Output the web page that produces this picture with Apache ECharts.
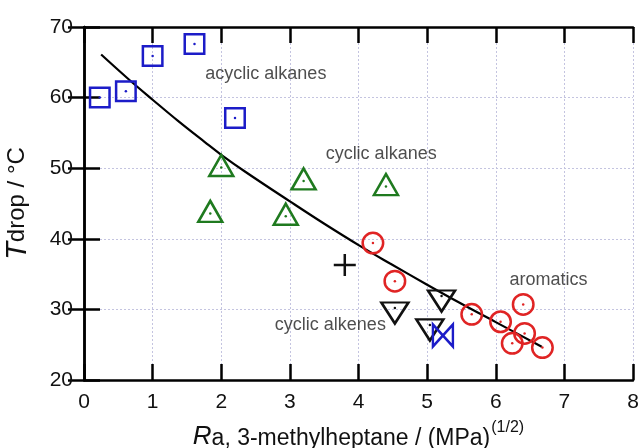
<!DOCTYPE html>
<html>
<head>
<meta charset="utf-8">
<script src="https://cdn.jsdelivr.net/npm/echarts@6/dist/echarts.min.js"></script>
<style>
html,body{margin:0;padding:0;background:#fff;}
#chart{width:641px;height:448px;}
</style>
</head>
<body>
<div id="chart"></div>
<script>
// acyclic alkanes (squares)
var acyclic = [[0.23,60.0],[0.61,60.9],[1.0,65.9],[1.61,67.6],[2.20,57.1]];
// cyclic alkanes (triangles)
var cyclicAlkanes = [[2.0,50.1],[3.2,48.2],[4.40,47.4],[1.84,43.6],[2.94,43.2]];
// aromatics (circles)
var aromatics = [[4.21,39.4],[4.53,34.0],[5.65,29.3],[6.07,28.25],[6.40,30.7],[6.42,26.6],[6.24,25.2],[6.68,24.6]];
// cyclic alkenes (down triangles)
var cyclicAlkenes = [[4.53,30.2],[5.21,31.9],[5.04,27.8]];
var plusPt = [[3.80,36.3]];
var bowtiePt = [[5.23,26.3]];
// fit curve
var fitX = [0.25,0.65,1.0,1.37,1.76,2.0,2.35,3.0,3.49,4.02,4.46,5.0,5.5,6.0,6.67];
var fitY = [66.1,62.6,59.7,56.7,53.7,51.9,49.5,45.3,42.2,39.0,36.5,33.5,30.8,28.2,24.7];
var labels = [
  [2.65,63.3,'acyclic alkanes'],
  [4.33,52.0,'cyclic alkanes'],
  [6.77,34.2,'aromatics'],
  [3.59,27.8,'cyclic alkenes']
];

var blue='#1c1cc8', green='#1f7a1f', red='#e02424', black='#111';
var FONT='Liberation Sans, Arial, sans-serif';

function hollow(name,data,symbol,size,color,extra){
  var s = {
    name:name, type:'scatter', data:data, symbol:symbol, symbolSize:size,
    itemStyle:{color:'rgba(0,0,0,0)',borderColor:color,borderWidth:2.5,opacity:1},
    emphasis:{disabled:true}, z:3
  };
  for(var k in extra){ s[k]=extra[k]; }
  return s;
}
function dots(data,color){
  return {type:'scatter',data:data,symbol:'circle',symbolSize:2.5,
    itemStyle:{color:color,opacity:1},emphasis:{disabled:true},z:4};
}

var fitData = fitX.map(function(x,i){ return [x,fitY[i]]; });

var axisLineS = {show:true,lineStyle:{color:'#000',width:2.5}};
var tickS = {show:true,inside:true,length:16,lineStyle:{color:'#000',width:2.5}};
var gridS = {show:true,lineStyle:{color:'#c4c4e0',type:[2,2],width:1}};

var option = {
  animation:false,
  backgroundColor:'#fff',
  grid:{left:84,top:27,right:8,bottom:68,containLabel:false,outerBoundsMode:'none'},
  xAxis:[{
    type:'value',min:0,max:8,interval:1,position:'bottom',
    axisLine:axisLineS,axisTick:tickS,splitLine:gridS,
    axisLabel:{color:'#111',fontSize:21,fontFamily:FONT,margin:12},
    name:'{i|R}{s|a, 3-methylheptane / (MPa)}{sup|(1/2)}',
    nameLocation:'middle',nameGap:40,
    nameTextStyle:{
      color:'#111',fontFamily:FONT,
      rich:{
        i:{fontSize:26,fontStyle:'italic',fontFamily:FONT,color:'#111',verticalAlign:'bottom',lineHeight:30},
        s:{fontSize:23,fontFamily:FONT,color:'#111',verticalAlign:'bottom',lineHeight:30},
        sup:{fontSize:16,fontFamily:FONT,color:'#111',verticalAlign:'top',lineHeight:30,padding:[0,0,0,1]}
      }
    }
  },{
    type:'value',min:0,max:8,interval:1,position:'top',
    axisLine:axisLineS,axisTick:tickS,splitLine:{show:false},axisLabel:{show:false}
  }],
  yAxis:[{
    type:'value',min:20,max:70,interval:10,position:'left',
    axisLine:axisLineS,axisTick:tickS,splitLine:gridS,
    axisLabel:{color:'#111',fontSize:21,fontFamily:FONT,margin:11},
    name:'{i|T}{s|drop / °C}',
    nameLocation:'middle',nameGap:52,nameRotate:90,
    nameTextStyle:{
      color:'#111',fontFamily:FONT,
      rich:{
        i:{fontSize:29,fontStyle:'italic',fontFamily:FONT,color:'#111'},
        s:{fontSize:24,fontFamily:FONT,color:'#111'}
      }
    }
  },{
    type:'value',min:20,max:70,interval:10,position:'right',
    axisLine:axisLineS,axisTick:tickS,splitLine:{show:false},axisLabel:{show:false}
  }],
  series:[
    {type:'line',data:fitData,smooth:0.4,symbol:'none',
     lineStyle:{color:'#000',width:2.2},emphasis:{disabled:true},z:2},
    hollow('acyclic',acyclic,'rect',19.5,blue),
    dots(acyclic,blue),
    hollow('cyclic alkanes',cyclicAlkanes,'triangle',[24,21],green,{symbolOffset:[0,-2]}),
    dots(cyclicAlkanes,green),
    hollow('aromatics',aromatics,'circle',20.5,red),
    dots(aromatics,red),
    hollow('cyclic alkenes',cyclicAlkenes,'triangle',[27,21],black,{symbolRotate:180,symbolOffset:[0,5]}),
    dots(cyclicAlkenes,black),
    hollow('plus',plusPt,'path://M0,5 L10,5 M5,0 L5,10',22,black),
    hollow('bowtie',bowtiePt,'path://M0,0 L0,10 L10,0 L10,10 Z',[20,22],blue),
    {type:'scatter',data:labels,symbolSize:0,silent:true,z:5,
     label:{show:true,position:'inside',color:'#222',fontSize:18,fontFamily:FONT,
       formatter:function(p){ return p.data[2]; }}}
  ]
};

var myChart = echarts.init(document.getElementById('chart'));
myChart.setOption(option);
</script>
</body>
</html>
